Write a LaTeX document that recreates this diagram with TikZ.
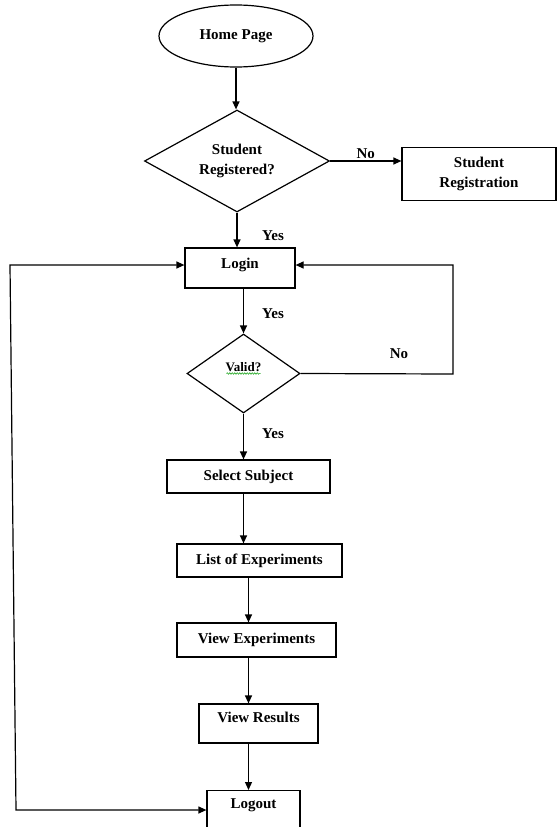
\documentclass[tikz,border=0pt]{standalone}
\usepackage{fontspec}
\setmainfont{Liberation Serif}
\usetikzlibrary{shapes.geometric,arrows.meta,decorations.pathmorphing}

\begin{document}
\begin{tikzpicture}[x=1pt,y=-1pt,line width=1.2pt,>={Triangle[length=8pt,width=7pt]}]
        \useasboundingbox (0,0) rectangle (557,827);
        \clip (0,0) rectangle (557,827);
        \tikzstyle{every node} = [font=\fontsize{15}{20}\selectfont\bfseries, align=center]
        \tikzstyle{box} = [draw, rectangle, inner sep=0pt]
        \tikzstyle{decision} = [draw, diamond, aspect=1.6, inner sep=0pt]
        \node[draw, ellipse, minimum width=154pt, minimum height=62pt] (home) at (236,36) {Home Page};
        \node[decision, minimum width=185pt, minimum height=102pt] (reg) at (237,161) {Student\\Registered?};
        \node[box, minimum width=154pt, minimum height=53pt] (stureg) at (479,174) {Student\\Registration};
        \node[box, minimum width=110pt, minimum height=40pt] (login) at (240,268) {\raisebox{0pt}[0pt][0pt]{Login}};
        \node[decision, minimum width=113pt, minimum height=79pt, font=\fontsize{13}{15}\selectfont\bfseries] (valid) at (243.5,373.5) {\raisebox{2pt}[0pt][0pt]{Valid?}};
        \node[box, minimum width=163pt, minimum height=33pt] (subj) at (248.5,476.5) {Select Subject};
        \node[box, minimum width=165pt, minimum height=33pt] (list) at (259.5,560.5) {List of Experiments};
        \node[box, minimum width=159pt, minimum height=34pt] (viewexp) at (256.5,640) {View Experiments};
        \node[box, minimum width=119pt, minimum height=39pt] (viewres) at (258.5,723.5) {\raisebox{1.5pt}[0pt][0pt]{View Results}};
        \node[box, minimum width=93pt, minimum height=60pt, anchor=north] (logout) at (253.5,790) {\raisebox{12pt}[0pt][0pt]{Logout}};
        \node (yes1) at (273,236) {Yes};
        \node (yes2) at (273,314) {Yes};
        \node (yes3) at (273,434) {Yes};
        \node (no2) at (399,354) {No};
        \coordinate (retry) at (453,374);
        \coordinate (backtop) at (10,265);
        \coordinate (backbot) at (16,810);
        % main line
        \foreach \from/\to/\via in {home/reg/home, reg/login/reg, login/valid/valid, valid/subj/valid, subj/list/valid, list/viewexp/subj, viewexp/viewres/subj, viewres/logout/subj}
            \draw[->] (\from.south -| \via.south) -- (\to.north -| \via.south);
        \draw[->] (reg.east) -- node[above=-2pt] (no1) {No} (reg.east -| stureg.west);
        \draw[->] (valid.east) -- (retry) |- ([yshift=3pt]login.east);
        \draw[<->] ([yshift=3pt]login.west) -- (backtop) -- (backbot) -- (backbot -| logout.west);
        % spelling mark
        \draw[decorate, decoration={snake, amplitude=0.8pt, segment length=2.5pt}, green!60!black, line width=0.5pt] ([xshift=-17pt]valid.center) -- ([xshift=17pt]valid.center);
    \end{tikzpicture}
\end{document}
